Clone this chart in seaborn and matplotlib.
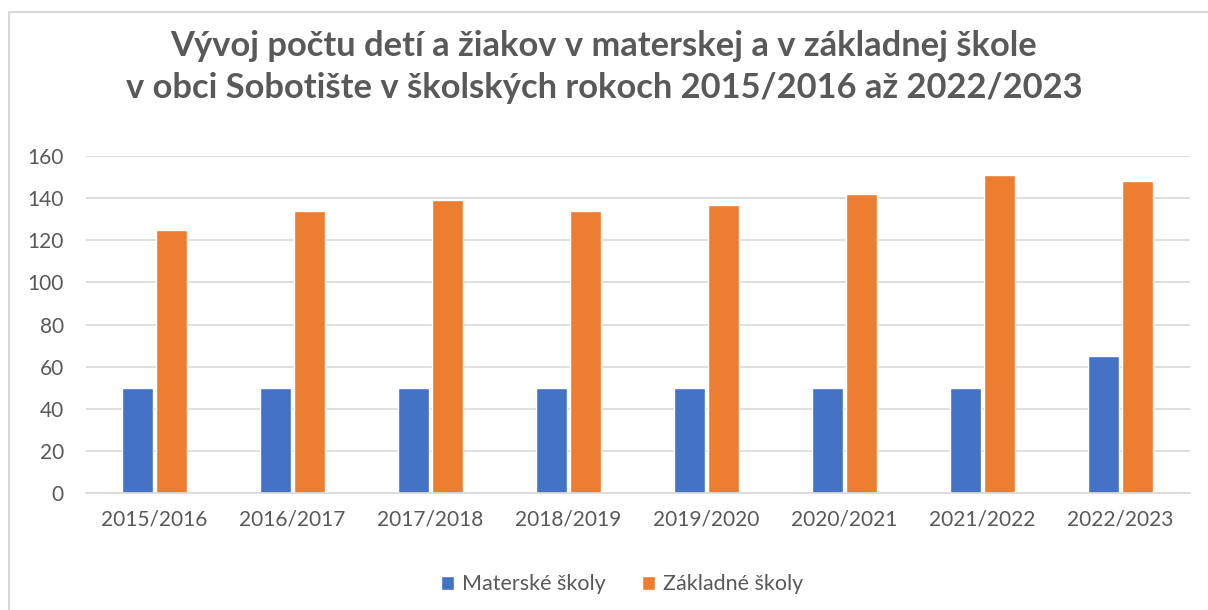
import matplotlib
matplotlib.use("Agg")
import matplotlib.pyplot as plt
import seaborn as sns
import pandas as pd
from matplotlib.lines import Line2D

# School years and counts
years = ["2015/2016", "2016/2017", "2017/2018", "2018/2019",
         "2019/2020", "2020/2021", "2021/2022", "2022/2023"]
materske = [50, 50, 50, 50, 50, 50, 50, 65]
zakladne = [125, 134, 139, 134, 137, 142, 151, 148]
series_names = ["Materské školy", "Základné školy"]
colors = ["#4472C4", "#ED7D31"]

df = pd.DataFrame({
    "rok": years * 2,
    "pocet": materske + zakladne,
    "typ": [series_names[0]] * len(years) + [series_names[1]] * len(years),
})

sns.set_theme(style="white")
plt.rcParams["font.family"] = ["Lato", "DejaVu Sans"]

fig = plt.figure(figsize=(12.08, 6.10), dpi=100)
ax = fig.add_axes([0.0708, 0.192, 0.914, 0.552])

sns.barplot(data=df, x="rok", y="pocet", hue="typ", palette=colors,
            width=0.5, gap=0.1, saturation=1, ax=ax, legend=True)

ax.set_ylim(0, 160)
ax.set_yticks(range(0, 161, 20))
ax.yaxis.grid(True, color="#D9D9D9", linewidth=1.2)
ax.set_axisbelow(True)
for side in ["left", "right", "top"]:
    ax.spines[side].set_visible(False)
ax.spines["bottom"].set_color("#D9D9D9")
ax.spines["bottom"].set_linewidth(1.2)
ax.set_xlabel("")
ax.set_ylabel("")
ax.tick_params(axis="both", length=0, labelsize=15, labelcolor="#595959")
ax.tick_params(axis="x", pad=12)
ax.tick_params(axis="y", pad=15.5)
ax.set_xlim(-0.5, len(years) - 0.5)

leg = ax.legend(loc="upper center", bbox_to_anchor=(0.515, 0.09),
                bbox_transform=fig.transFigure, ncol=2,
                frameon=False, fontsize=15.5, handlelength=0.6,
                handleheight=0.6, columnspacing=1.7, handletextpad=0.35)
for t in leg.get_texts():
    t.set_color("#595959")

fig.text(0.5, 0.95, "Vývoj počtu detí a žiakov v materskej a v základnej škole\n"
         "v obci Sobotište v školských rokoch 2015/2016 až 2022/2023",
         ha="center", va="top", fontsize=24.8, fontweight="bold",
         color="#595959", linespacing=1.36)

# chart frame
fig.add_artist(Line2D([9 / 1208, 9 / 1208], [0, 1 - 12 / 610],
                      transform=fig.transFigure, color="#D9D9D9", linewidth=1.5))
fig.add_artist(Line2D([9 / 1208, 1], [1 - 12 / 610, 1 - 12 / 610],
                      transform=fig.transFigure, color="#D9D9D9", linewidth=1.5))

fig.savefig("out.png", dpi=100)
